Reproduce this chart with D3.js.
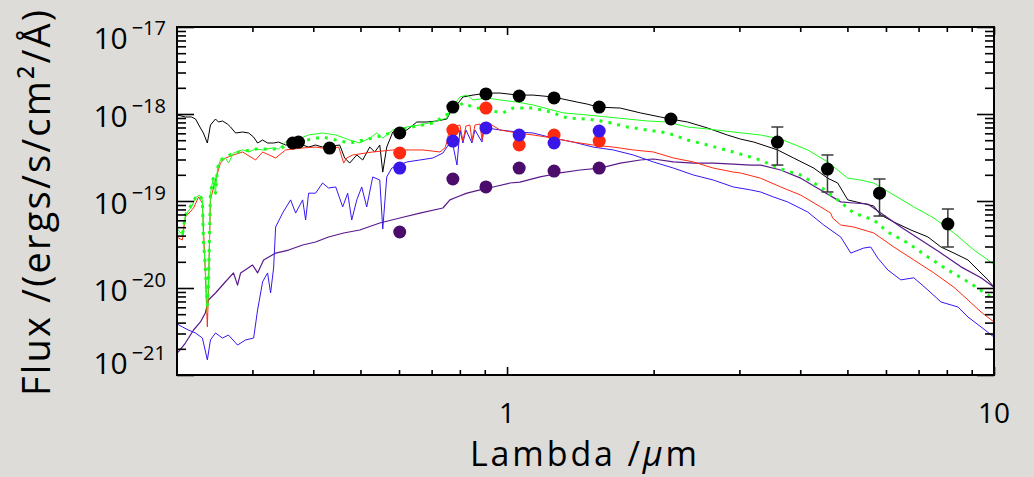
<!DOCTYPE html>
<html>
<head>
<meta charset="utf-8">
<script src="https://cdn.jsdelivr.net/npm/d3@7"></script>
<style>
body { margin: 0; background: #dddcd8; }
svg { display: block; font-family: "Open Sans", "DejaVu Sans", sans-serif; font-weight: 400; }
</style>
</head>
<body>
<div id="sed"></div>
<script>
// tick labels
var xTicks = [1, 10];
var yTicks = [1e-17, 1e-18, 1e-19, 1e-20, 1e-21];

// photometry (black dots), some with error bars
var photWave = [0.363, 0.373, 0.432, 0.602, 0.774, 0.905, 1.059, 1.249, 1.546, 2.17, 3.59, 4.55, 5.82, 8.04];
var photFlux = [4.64e-19, 4.76e-19, 4.06e-19, 6.05e-19, 1.20e-18, 1.70e-18, 1.61e-18, 1.53e-18, 1.20e-18, 8.76e-19, 4.76e-19, 2.33e-19, 1.23e-19, 5.44e-20];
var errWave = [3.59, 4.55, 5.82, 8.04];
var errLow = [2.59e-19, 1.27e-19, 6.72e-20, 2.96e-20];
var errHigh = [7.09e-19, 3.38e-19, 1.79e-19, 8.09e-20];

// model points
var modelWave = [0.602, 0.774, 0.905, 1.059, 1.249, 1.546];
var modelRed = [3.56e-19, 6.55e-19, 1.17e-18, 4.40e-19, 5.74e-19, 4.89e-19];
var modelBlue = [2.39e-19, 4.89e-19, 6.91e-19, 5.74e-19, 4.64e-19, 6.38e-19];
var modelPurple = [4.40e-20, 1.79e-19, 1.45e-19, 2.39e-19, 2.21e-19, 2.39e-19];

// spectra [lambda (um), flux]
var specBlack = [[0.2104, 9.74e-19], [0.2185, 9.24e-19], [0.2249, 9.24e-19], [0.2292, 8.76e-19], [0.2346, 6.91e-19], [0.2379, 6.05e-19], [0.2424, 4.64e-19], [0.2460, 7.47e-19], [0.2519, 8.76e-19], [0.2555, 8.09e-19], [0.2604, 8.31e-19], [0.2666, 7.67e-19], [0.2705, 7.09e-19], [0.2770, 6.05e-19], [0.2864, 6.21e-19], [0.2947, 6.05e-19], [0.3017, 5.43e-19], [0.3074, 4.64e-19], [0.3148, 5.02e-19], [0.3223, 4.64e-19], [0.3316, 4.64e-19], [0.3395, 4.76e-19], [0.3509, 4.40e-19], [0.3750, 4.52e-19], [0.3913, 4.17e-19], [0.4044, 4.40e-19], [0.4180, 4.17e-19], [0.4532, 4.40e-19], [0.4641, 3.12e-19], [0.4752, 2.73e-19], [0.4914, 3.38e-19], [0.5054, 2.96e-19], [0.5224, 4.17e-19], [0.5350, 3.66e-19], [0.5478, 4.40e-19], [0.5556, 2.15e-19], [0.5662, 4.17e-19], [0.5826, 6.21e-19], [0.6227, 6.55e-19], [0.6528, 8.09e-19], [0.6846, 8.09e-19], [0.7175, 8.31e-19], [0.7525, 8.76e-19], [0.7633, 1.03e-18], [0.7817, 1.20e-18], [0.8117, 1.57e-18], [0.8512, 1.65e-18], [0.9096, 1.74e-18], [0.9674, 1.74e-18], [1.0535, 1.65e-18], [1.131, 1.65e-18], [1.243, 1.57e-18], [1.394, 1.37e-18], [1.461, 1.30e-18], [1.539, 1.20e-18], [1.708, 1.17e-18], [1.878, 1.03e-18], [2.065, 9.24e-19], [2.166, 8.76e-19], [2.348, 8.09e-19], [2.580, 6.91e-19], [2.832, 5.74e-19], [3.016, 5.15e-19], [3.212, 4.76e-19], [3.596, 3.86e-19], [3.877, 3.12e-19], [4.264, 2.39e-19], [4.554, 1.83e-19], [4.775, 1.61e-19], [5.008, 1.03e-19], [5.326, 9.49e-20], [5.663, 8.77e-20], [5.855, 6.90e-20], [6.226, 5.74e-20], [6.750, 4.64e-20], [7.317, 3.86e-20], [7.781, 2.96e-20], [8.275, 2.52e-20], [8.843, 2.10e-20], [9.272, 1.61e-20], [9.721, 1.24e-20], [10.0, 1.02e-20]];

var specGreen = [[0.2084, 4.29e-20], [0.2114, 4.64e-20], [0.2154, 4.07e-20], [0.2185, 6.90e-20], [0.2249, 8.54e-20], [0.2292, 1.09e-19], [0.2335, 1.17e-19], [0.2368, 1.03e-19], [0.2379, 3.56e-20], [0.2401, 1.75e-20], [0.2424, 5.16e-21], [0.2436, 1.02e-20], [0.2460, 1.23e-19], [0.2495, 1.89e-19], [0.2519, 1.23e-19], [0.2543, 2.39e-19], [0.2579, 2.96e-19], [0.2641, 3.12e-19], [0.2679, 2.73e-19], [0.2743, 3.56e-19], [0.2864, 3.86e-19], [0.2947, 3.66e-19], [0.3045, 3.96e-19], [0.3148, 3.86e-19], [0.3300, 4.07e-19], [0.3395, 3.96e-19], [0.3509, 4.76e-19], [0.3680, 5.02e-19], [0.3913, 5.74e-19], [0.4180, 6.05e-19], [0.4448, 5.74e-19], [0.4752, 5.02e-19], [0.4983, 4.64e-19], [0.5224, 5.29e-19], [0.5401, 6.05e-19], [0.5556, 5.29e-19], [0.5826, 6.55e-19], [0.6227, 7.09e-19], [0.6622, 7.47e-19], [0.7041, 8.09e-19], [0.7525, 8.99e-19], [0.7633, 1.11e-18], [0.8003, 1.57e-18], [0.8272, 1.65e-18], [0.8512, 1.45e-18], [0.9096, 1.53e-18], [0.9674, 1.45e-18], [1.0485, 1.37e-18], [1.131, 1.27e-18], [1.304, 1.03e-18], [1.461, 9.74e-19], [1.606, 9.24e-19], [1.766, 8.76e-19], [1.942, 8.31e-19], [2.135, 8.09e-19], [2.348, 7.09e-19], [2.580, 6.73e-19], [2.915, 6.21e-19], [3.316, 5.74e-19], [3.646, 5.15e-19], [4.145, 3.86e-19], [4.554, 2.81e-19], [5.008, 1.83e-19], [5.326, 1.74e-19], [5.663, 1.61e-19], [6.139, 1.23e-19], [6.846, 8.54e-20], [7.527, 6.37e-20], [8.275, 4.29e-20], [9.097, 2.73e-20], [9.721, 2.10e-20], [10.0, 1.84e-20]];

var specGreenDot = [[0.2084, 4.29e-20], [0.2154, 4.07e-20], [0.2185, 6.90e-20], [0.2292, 1.09e-19], [0.2335, 1.17e-19], [0.2368, 1.03e-19], [0.2379, 3.56e-20], [0.2401, 1.75e-20], [0.2424, 6.38e-21], [0.2436, 1.02e-20], [0.2460, 1.23e-19], [0.2495, 1.89e-19], [0.2519, 1.23e-19], [0.2543, 2.39e-19], [0.2579, 2.96e-19], [0.2743, 3.56e-19], [0.3045, 3.96e-19], [0.3395, 3.96e-19], [0.3680, 4.76e-19], [0.4180, 5.43e-19], [0.4752, 4.64e-19], [0.5401, 5.43e-19], [0.6227, 6.91e-19], [0.7041, 7.88e-19], [0.7633, 1.03e-18], [0.8117, 1.34e-18], [0.8512, 1.20e-18], [0.9096, 1.11e-18], [0.9812, 1.03e-18], [1.0288, 1.17e-18], [1.131, 1.17e-18], [1.226, 1.06e-18], [1.328, 8.99e-19], [1.461, 8.76e-19], [1.606, 8.09e-19], [1.766, 7.09e-19], [1.942, 6.55e-19], [2.135, 6.05e-19], [2.348, 5.02e-19], [2.580, 4.40e-19], [2.915, 3.66e-19], [3.316, 2.96e-19], [3.646, 2.33e-19], [4.009, 1.99e-19], [4.406, 1.45e-19], [4.775, 1.03e-19], [5.153, 7.27e-20], [5.663, 6.05e-20], [6.053, 4.40e-20], [6.655, 3.29e-20], [7.317, 2.27e-20], [8.044, 1.61e-20], [8.843, 1.18e-20], [9.721, 8.31e-21], [10.0, 7.28e-21]];

var specRed = [[0.2084, 4.07e-20], [0.2114, 3.76e-20], [0.2154, 3.56e-20], [0.2185, 6.54e-20], [0.2271, 8.31e-20], [0.2325, 1.11e-19], [0.2368, 9.49e-20], [0.2401, 1.49e-20], [0.2424, 3.57e-21], [0.2436, 8.76e-21], [0.2460, 1.03e-19], [0.2519, 1.74e-19], [0.2579, 2.73e-19], [0.2641, 3.12e-19], [0.2743, 3.38e-19], [0.2864, 3.66e-19], [0.3045, 2.96e-19], [0.3148, 3.66e-19], [0.3348, 3.12e-19], [0.3509, 3.86e-19], [0.3804, 4.07e-19], [0.4044, 4.17e-19], [0.4299, 3.96e-19], [0.4511, 4.17e-19], [0.4619, 2.73e-19], [0.4685, 3.12e-19], [0.4820, 3.38e-19], [0.5299, 3.66e-19], [0.5826, 3.86e-19], [0.6717, 3.86e-19], [0.7280, 3.66e-19], [0.7454, 4.07e-19], [0.7525, 4.76e-19], [0.7633, 7.09e-19], [0.8003, 7.47e-19], [0.8117, 4.89e-19], [0.8234, 7.28e-19], [0.8391, 7.47e-19], [0.8471, 4.89e-19], [0.8593, 7.47e-19], [0.8799, 7.67e-19], [0.8883, 5.02e-19], [0.8968, 7.67e-19], [0.9096, 8.09e-19], [0.9674, 6.55e-19], [1.0485, 6.05e-19], [1.131, 5.74e-19], [1.243, 5.29e-19], [1.367, 4.76e-19], [1.503, 4.40e-19], [1.652, 4.17e-19], [1.817, 3.86e-19], [1.998, 3.66e-19], [2.197, 3.12e-19], [2.414, 2.81e-19], [2.653, 2.39e-19], [2.915, 2.15e-19], [3.016, 2.10e-19], [3.316, 1.83e-19], [3.646, 1.45e-19], [4.009, 1.17e-19], [4.406, 8.54e-20], [4.619, 7.27e-20], [4.663, 6.37e-20], [4.844, 5.30e-20], [5.153, 5.02e-20], [5.663, 4.29e-20], [6.226, 2.96e-20], [6.846, 2.10e-20], [7.527, 1.49e-20], [8.275, 1.02e-20], [8.843, 7.28e-21], [9.404, 5.30e-21], [10.0, 4.07e-21]];

var specBlue = [[0.2084, 3.96e-21], [0.2154, 3.57e-21], [0.2216, 3.29e-21], [0.2292, 3.04e-21], [0.2368, 2.66e-21], [0.2424, 1.49e-21], [0.2460, 2.53e-21], [0.2519, 3.04e-21], [0.2604, 2.66e-21], [0.2679, 2.88e-21], [0.2796, 2.21e-21], [0.2905, 2.53e-21], [0.3017, 2.66e-21], [0.3074, 5.59e-21], [0.3148, 1.18e-20], [0.3223, 1.49e-20], [0.3269, 8.76e-21], [0.3316, 1.70e-20], [0.3348, 5.02e-20], [0.3460, 7.27e-20], [0.3594, 1.03e-19], [0.3680, 7.27e-20], [0.3804, 1.03e-19], [0.3858, 6.05e-20], [0.3913, 1.23e-19], [0.4044, 1.23e-19], [0.4180, 1.61e-19], [0.4299, 1.41e-19], [0.4448, 1.45e-19], [0.4597, 8.54e-20], [0.4707, 1.23e-19], [0.4798, 6.05e-20], [0.4914, 1.03e-19], [0.5030, 1.45e-19], [0.5150, 8.54e-20], [0.5299, 1.89e-19], [0.5478, 1.74e-19], [0.5556, 4.76e-20], [0.5662, 1.89e-19], [0.5798, 2.39e-19], [0.6227, 2.81e-19], [0.6622, 2.96e-19], [0.7041, 3.12e-19], [0.7384, 3.56e-19], [0.7525, 4.17e-19], [0.7706, 5.02e-19], [0.7891, 2.59e-19], [0.8003, 6.55e-19], [0.8117, 4.64e-19], [0.8234, 6.55e-19], [0.8471, 4.64e-19], [0.8593, 6.55e-19], [0.8883, 4.76e-19], [0.8968, 6.73e-19], [0.9096, 6.91e-19], [0.9674, 6.55e-19], [1.0485, 6.21e-19], [1.131, 6.05e-19], [1.243, 5.29e-19], [1.367, 4.76e-19], [1.503, 4.17e-19], [1.652, 3.86e-19], [1.817, 3.38e-19], [1.998, 2.81e-19], [2.197, 2.39e-19], [2.414, 1.99e-19], [2.653, 1.74e-19], [2.915, 1.45e-19], [3.166, 1.34e-19], [3.316, 1.27e-19], [3.528, 1.11e-19], [3.768, 9.77e-20], [4.145, 7.47e-20], [4.469, 5.30e-20], [4.844, 3.86e-20], [5.080, 2.52e-20], [5.402, 2.88e-20], [5.584, 2.96e-20], [5.771, 2.21e-20], [6.053, 1.61e-20], [6.437, 1.24e-20], [6.846, 1.31e-20], [7.317, 9.48e-21], [7.781, 6.91e-21], [8.432, 6.05e-21], [8.843, 4.64e-21], [9.404, 3.57e-21], [10.0, 2.73e-21]];

var specPurple = [[0.2084, 1.94e-21], [0.2114, 1.84e-21], [0.2185, 2.33e-21], [0.2271, 3.29e-21], [0.2346, 4.07e-21], [0.2401, 5.16e-21], [0.2436, 7.28e-21], [0.2519, 8.76e-21], [0.2641, 1.18e-20], [0.2743, 1.49e-20], [0.2796, 1.08e-20], [0.2837, 1.49e-20], [0.3002, 1.84e-20], [0.3074, 1.49e-20], [0.3163, 2.10e-20], [0.3348, 2.52e-20], [0.3560, 2.73e-20], [0.3804, 3.12e-20], [0.4044, 3.38e-20], [0.4299, 3.86e-20], [0.4619, 4.29e-20], [0.4983, 4.64e-20], [0.5478, 5.59e-20], [0.6023, 6.38e-20], [0.6622, 7.27e-20], [0.7384, 8.31e-20], [0.7633, 1.03e-19], [0.7891, 1.11e-19], [0.8272, 1.23e-19], [0.8799, 1.34e-19], [0.9359, 1.45e-19], [1.0143, 1.61e-19], [1.063, 1.65e-19], [1.169, 1.89e-19], [1.285, 2.10e-19], [1.413, 2.27e-19], [1.553, 2.39e-19], [1.708, 2.73e-19], [1.878, 2.96e-19], [1.998, 3.04e-19], [2.197, 2.81e-19], [2.414, 2.73e-19], [2.653, 2.73e-19], [2.915, 2.66e-19], [3.166, 2.59e-19], [3.316, 2.59e-19], [3.646, 2.27e-19], [4.009, 1.83e-19], [4.406, 1.34e-19], [4.844, 9.77e-20], [5.153, 9.49e-20], [5.505, 9.24e-20], [5.855, 7.27e-20], [6.437, 5.02e-20], [7.077, 3.56e-20], [7.781, 2.52e-20], [8.554, 1.75e-20], [9.404, 1.31e-20], [10.0, 1.02e-20]];

sed();

function sed() {
    var width = 1034, height = 477;
    var left = 177, right = 994, top = 27, bottom = 375;

    var x = d3.scaleLog().domain([0.21, 10]).range([left, right]);
    var y = d3.scaleLog().domain([1e-21, 1e-17]).range([bottom, top]);

    var svg = d3.select("#sed").append("svg")
        .attr("width", width)
        .attr("height", height);

    svg.append("defs").append("clipPath").attr("id", "plotclip")
        .append("rect")
        .attr("x", left).attr("y", top)
        .attr("width", right - left).attr("height", bottom - top);

    svg.append("rect")
        .attr("x", left).attr("y", top)
        .attr("width", right - left).attr("height", bottom - top)
        .attr("fill", "white");

    var line = d3.line()
        .x(function(d) { return x(d[0]); })
        .y(function(d) { return y(d[1]); });

    var plot = svg.append("g").attr("clip-path", "url(#plotclip)");

    var spectra = [
        { data: specBlack, color: "#000000", dash: null, w: 1 },
        { data: specPurple, color: "#5a1a8c", dash: null, w: 1.2 },
        { data: specBlue, color: "#3518f0", dash: null, w: 1 },
        { data: specRed, color: "#ff2a10", dash: null, w: 1 },
        { data: specGreen, color: "#1cff1c", dash: null, w: 1 },
        { data: specGreenDot, color: "#1cff1c", dash: "3,6", w: 3 }
    ];

    plot.selectAll("path.spec")
        .data(spectra).enter()
        .append("path")
        .attr("class", "spec")
        .attr("fill", "none")
        .attr("stroke", function(d) { return d.color; })
        .attr("stroke-width", function(d) { return d.w; })
        .attr("stroke-dasharray", function(d) { return d.dash; })
        .attr("stroke-linejoin", "round")
        .attr("d", function(d) { return line(d.data); });

    // error bars
    var errs = errWave.map(function(w, i) { return { w: w, lo: errLow[i], hi: errHigh[i] }; });
    var eg = plot.append("g").attr("stroke", "#3a3a3a").attr("stroke-width", 1.5);
    eg.selectAll("line.bar").data(errs).enter().append("line")
        .attr("x1", function(d) { return x(d.w); })
        .attr("x2", function(d) { return x(d.w); })
        .attr("y1", function(d) { return y(d.lo); })
        .attr("y2", function(d) { return y(d.hi); });
    eg.selectAll("line.top").data(errs).enter().append("line")
        .attr("x1", function(d) { return x(d.w) - 6; })
        .attr("x2", function(d) { return x(d.w) + 6; })
        .attr("y1", function(d) { return y(d.hi); })
        .attr("y2", function(d) { return y(d.hi); });
    eg.selectAll("line.bot").data(errs).enter().append("line")
        .attr("x1", function(d) { return x(d.w) - 6; })
        .attr("x2", function(d) { return x(d.w) + 6; })
        .attr("y1", function(d) { return y(d.lo); })
        .attr("y2", function(d) { return y(d.lo); });

    // points
    var pointSets = [
        { wave: photWave, flux: photFlux, color: "#000000" },
        { wave: modelWave, flux: modelRed, color: "#ff2a10" },
        { wave: modelWave, flux: modelBlue, color: "#3a16e8" },
        { wave: modelWave, flux: modelPurple, color: "#4c0c6c" }
    ];
    pointSets.forEach(function(s) {
        plot.append("g").selectAll("circle")
            .data(s.wave).enter()
            .append("circle")
            .attr("r", 6.5)
            .attr("fill", s.color)
            .attr("cx", function(d) { return x(d); })
            .attr("cy", function(d, i) { return y(s.flux[i]); });
    });

    // ticks, pointing inwards on all four sides
    var xMinor = [0.3, 0.4, 0.5, 0.6, 0.7, 0.8, 0.9, 2, 3, 4, 5, 6, 7, 8, 9];
    var yMinor = [];
    [-21, -20, -19, -18].forEach(function(e) {
        for (var k = 2; k < 10; k++) yMinor.push(k * Math.pow(10, e));
    });

    function noDomain(g) { g.select(".domain").remove(); g.selectAll("line").attr("stroke", "#000").attr("stroke-width", 1.6); }

    svg.append("g").attr("transform", "translate(0," + bottom + ")")
        .call(d3.axisBottom(x).tickValues(xTicks).tickSize(-8).tickFormat("")).call(noDomain);
    svg.append("g").attr("transform", "translate(0," + bottom + ")")
        .call(d3.axisBottom(x).tickValues(xMinor).tickSize(-5).tickFormat("")).call(noDomain);
    svg.append("g").attr("transform", "translate(0," + top + ")")
        .call(d3.axisTop(x).tickValues(xTicks).tickSize(-8).tickFormat("")).call(noDomain);
    svg.append("g").attr("transform", "translate(0," + top + ")")
        .call(d3.axisTop(x).tickValues(xMinor).tickSize(-5).tickFormat("")).call(noDomain);

    svg.append("g").attr("transform", "translate(" + left + ",0)")
        .call(d3.axisLeft(y).tickValues(yTicks).tickSize(-17).tickFormat("")).call(noDomain);
    svg.append("g").attr("transform", "translate(" + left + ",0)")
        .call(d3.axisLeft(y).tickValues(yMinor).tickSize(-9).tickFormat("")).call(noDomain);
    svg.append("g").attr("transform", "translate(" + right + ",0)")
        .call(d3.axisRight(y).tickValues(yTicks).tickSize(-17).tickFormat("")).call(noDomain);
    svg.append("g").attr("transform", "translate(" + right + ",0)")
        .call(d3.axisRight(y).tickValues(yMinor).tickSize(-9).tickFormat("")).call(noDomain);

    // frame
    svg.append("rect")
        .attr("x", left).attr("y", top)
        .attr("width", right - left).attr("height", bottom - top)
        .attr("fill", "none")
        .attr("stroke", "#000")
        .attr("stroke-width", 2);

    // tick labels
    svg.append("g").selectAll("text")
        .data(xTicks).enter()
        .append("text")
        .attr("x", function(d) { return x(d); })
        .attr("y", 423)
        .attr("text-anchor", "middle")
        .attr("font-size", 28)
        .attr("fill", "#000")
        .text(function(d) { return d; });

    var yl = svg.append("g").selectAll("text")
        .data(yTicks).enter()
        .append("text")
        .attr("x", 166)
        .attr("y", function(d) { return Math.max(38, Math.min(363, y(d) + 2)) + 11; })
        .attr("text-anchor", "end")
        .attr("fill", "#000");
    yl.append("tspan").attr("font-size", 30).text("10");
    yl.append("tspan").attr("font-size", 20).attr("dx", 4).attr("dy", -14)
        .text(function(d) { return "\u2212" + Math.round(-Math.log10(d)); });

    // axis titles
    var xt = svg.append("text")
        .attr("x", 470).attr("y", 466)
        .attr("font-size", 34)
        .attr("fill", "#000")
        .attr("textLength", 227)
        .attr("lengthAdjust", "spacing");
    xt.append("tspan").text("Lambda /");
    xt.append("tspan").attr("font-style", "italic").text("\u03bc");
    xt.append("tspan").text("m");

    svg.append("text")
        .attr("transform", "translate(50,396) rotate(-90)")
        .attr("font-size", 38)
        .attr("fill", "#000")
        .attr("textLength", 386)
        .attr("lengthAdjust", "spacing")
        .text("Flux /(ergs/s/cm\u00b2/\u00c5)");
}
</script>
</body>
</html>
